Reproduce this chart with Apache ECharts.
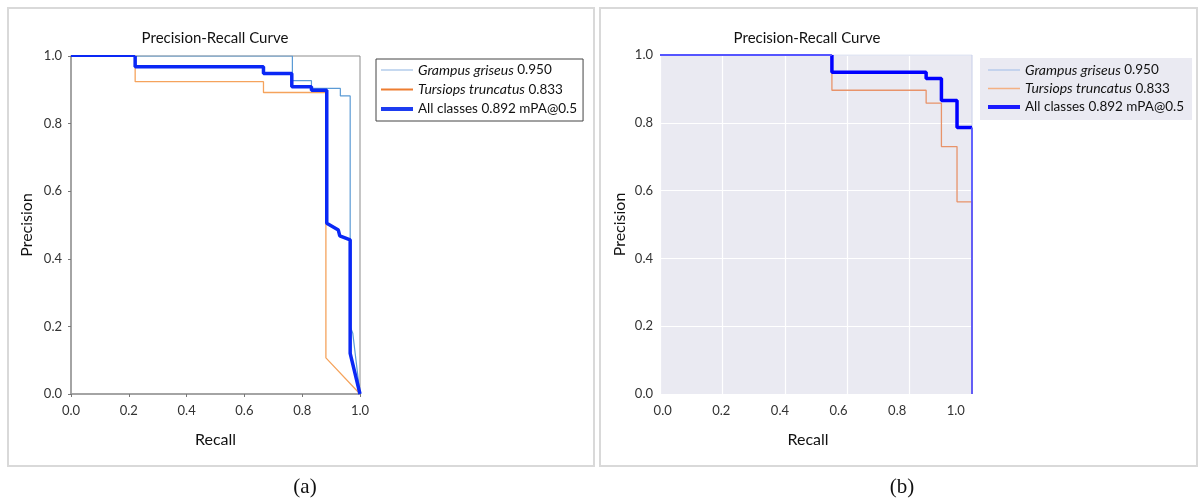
<!DOCTYPE html>
<html><head><meta charset="utf-8">
<script src="https://cdn.jsdelivr.net/npm/echarts@6/dist/echarts.min.js"></script>
<style>html,body{margin:0;padding:0;background:#fff}#c{width:1201px;height:502px}</style>
</head><body><div id="c"></div>
<script>
// ---------- data ----------
const tickValues = [0, 0.2, 0.4, 0.6, 0.8, 1.0];
const speciesNames = ['Grampus griseus', 'Tursiops truncatus', 'All classes'];
const apValues = ['0.950', '0.833', '0.892 mPA@0.5'];
const italicName = [true, true, false];

// panel (a)
const aGrampusRecall    = [0, 0.766, 0.766, 0.832, 0.832, 0.932, 0.932, 0.966, 0.966, 0.975, 1.0];
const aGrampusPrecision = [1.0, 1.0, 0.927, 0.927, 0.904, 0.904, 0.882, 0.882, 0.20, 0.18, 0.0];
const aTursiopsRecall    = [0, 0.222, 0.222, 0.666, 0.666, 0.882, 0.882, 1.0];
const aTursiopsPrecision = [1.0, 1.0, 0.924, 0.924, 0.892, 0.892, 0.107, 0.0];
const aAllRecall    = [0, 0.222, 0.222, 0.666, 0.666, 0.764, 0.764, 0.832, 0.832, 0.885, 0.885, 0.925, 0.930, 0.966, 0.966, 1.0];
const aAllPrecision = [1.0, 1.0, 0.968, 0.968, 0.948, 0.948, 0.909, 0.909, 0.899, 0.899, 0.505, 0.485, 0.468, 0.456, 0.12, 0.0];

// panel (b)
const bGrampusRecall    = [0, 1.0, 1.0];
const bGrampusPrecision = [1.0, 1.0, 0.0];
const bTursiopsRecall    = [0, 0.551, 0.551, 0.853, 0.853, 0.902, 0.902, 0.952, 0.952, 1.0, 1.0];
const bTursiopsPrecision = [1.0, 1.0, 0.896, 0.896, 0.858, 0.858, 0.730, 0.730, 0.567, 0.567, 0.0];
const bAllRecall    = [0, 0.551, 0.551, 0.853, 0.853, 0.902, 0.902, 0.952, 0.952, 1.0, 1.0];
const bAllPrecision = [1.0, 1.0, 0.949, 0.949, 0.931, 0.931, 0.866, 0.866, 0.786, 0.786, 0.0];

// ---------- helpers ----------
const names = speciesNames.map((s, i) => s + ' ' + apValues[i]);
const zip = (r, p) => r.map((v, i) => [v, p[i]]);
function legendFmt(name) {
  const i = names.indexOf(name);
  if (i < 0) return name;
  return italicName[i] ? '{i|' + speciesNames[i] + '} ' + apValues[i] : name;
}
// split a curve into the part lying on the plot edges (drawn thinner, as clipped in the original) and the inner part
function splitEdges(r, p) {
  const onEdge = i => (p[i] === 1 && p[i + 1] === 1) || (r[i] === 1 && r[i + 1] === 1);
  let s = 0; while (s < r.length - 1 && onEdge(s)) s++;
  let e = r.length - 1; while (e > 0 && onEdge(e - 1)) e--;
  const pts = zip(r, p);
  return { head: pts.slice(0, s + 1), inner: pts.slice(s, e + 1), tail: pts.slice(e) };
}
function iconPath(h) { // line icon of thickness h inside a 32x14 box
  const a = 7 - h / 2, b = 7 + h / 2;
  return 'path://M0,0L32,0Z M0,' + a + 'L32,' + a + 'L32,' + b + 'L0,' + b + 'Z M0,14L32,14Z';
}
const FONT = 'Lato';

const aAll = splitEdges(aAllRecall, aAllPrecision);
const bAll = splitEdges(bAllRecall, bAllPrecision);

function lineSeries(name, data, xi, yi, color, width, z) {
  return { type: 'line', name, data, xAxisIndex: xi, yAxisIndex: yi, symbol: 'none', showSymbol: false,
    lineStyle: { color, width }, itemStyle: { color }, z, silent: true, clip: true };
}
const legendText = { fontFamily: FONT, fontSize: 13.5, color: '#111',
  rich: { i: { fontFamily: FONT, fontSize: 14, fontStyle: 'italic', color: '#111' } } };

const chart = echarts.init(document.getElementById('c'), null, { renderer: 'canvas' });
chart.setOption({
  animation: false,
  backgroundColor: '#ffffff',
  grid: [
    { left: 71, top: 56, width: 289, height: 338, show: true, borderColor: '#8c8c8c', borderWidth: 1, backgroundColor: '#fff' },
    { left: 660, top: 55, width: 312, height: 339, show: true, borderWidth: 0, backgroundColor: '#EAEAF2' }
  ],
  xAxis: [
    { gridIndex: 0, type: 'value', min: 0, max: 1, interval: 0.2, position: 'bottom',
      axisLine: { show: true, lineStyle: { color: '#999', width: 1.5 } },
      axisTick: { show: true, length: 3, lineStyle: { color: '#777' } },
      axisLabel: { margin: 10, fontFamily: FONT, fontSize: 13, color: '#333', formatter: v => v.toFixed(1) },
      splitLine: { show: false },
      name: 'Recall', nameLocation: 'middle', nameGap: 38, nameTextStyle: { fontFamily: FONT, fontSize: 16, color: '#111' } },
    { gridIndex: 1, type: 'value', min: 0, max: 1, interval: 0.2, position: 'bottom',
      axisLine: { show: false }, axisTick: { show: false }, axisLabel: { show: false },
      splitLine: { show: true, lineStyle: { color: '#ffffff', width: 1.2 } } },
    { gridIndex: 1, type: 'value', min: -0.0092, max: 1.0553, position: 'bottom',
      axisLine: { show: false }, axisTick: { show: false }, splitLine: { show: false },
      axisLabel: { customValues: tickValues, margin: 10, fontFamily: FONT, fontSize: 13, color: '#333', formatter: v => v.toFixed(1) },
      name: 'Recall', nameLocation: 'middle', nameGap: 38, nameTextStyle: { fontFamily: FONT, fontSize: 16, color: '#111', padding: [0, 16, 0, 0] } }
  ],
  yAxis: [
    { gridIndex: 0, type: 'value', min: 0, max: 1, interval: 0.2,
      axisLine: { show: true, lineStyle: { color: '#999', width: 1.5 } },
      axisTick: { show: true, length: 3, lineStyle: { color: '#777' } },
      axisLabel: { margin: 9, fontFamily: FONT, fontSize: 13, color: '#333', formatter: v => v.toFixed(1) },
      splitLine: { show: false },
      name: 'Precision', nameLocation: 'middle', nameGap: 36, nameTextStyle: { fontFamily: FONT, fontSize: 16, color: '#111' } },
    { gridIndex: 1, type: 'value', min: 0, max: 1, interval: 0.2,
      axisLine: { show: false }, axisTick: { show: false },
      axisLabel: { margin: 7, fontFamily: FONT, fontSize: 13, color: '#333', formatter: v => v.toFixed(1) },
      splitLine: { show: true, lineStyle: { color: '#ffffff', width: 1.2 } },
      name: 'Precision', nameLocation: 'middle', nameGap: 32, nameTextStyle: { fontFamily: FONT, fontSize: 16, color: '#111' } }
  ],
  legend: [
    { orient: 'vertical', left: 376, top: 59, padding: [4, 6, 5, 5], itemWidth: 32, itemHeight: 14, itemGap: 5.5,
      borderColor: '#444', borderWidth: 1, backgroundColor: '#fff', selectedMode: false,
      itemStyle: { borderWidth: 0 }, formatter: legendFmt, textStyle: legendText,
      data: [
        { name: names[0], icon: iconPath(1), itemStyle: { color: '#8db3e2', borderWidth: 0 } },
        { name: names[1], icon: iconPath(2), itemStyle: { color: '#ed7d31', borderWidth: 0 } },
        { name: names[2], icon: iconPath(4), itemStyle: { color: '#1d3cf0', borderWidth: 0 } }
      ] },
    { orient: 'vertical', left: 980, top: 58, padding: [5, 8, 6, 8], itemWidth: 32, itemHeight: 14, itemGap: 4.5,
      borderWidth: 0, backgroundColor: '#EAEAF2', selectedMode: false,
      itemStyle: { borderWidth: 0 }, formatter: legendFmt, textStyle: legendText,
      data: [
        { name: names[0], icon: iconPath(1), itemStyle: { color: '#9dbbe8', borderWidth: 0 } },
        { name: names[1], icon: iconPath(1.5), itemStyle: { color: '#f4b183', borderWidth: 0 } },
        { name: names[2], icon: iconPath(4), itemStyle: { color: '#1a1aff', borderWidth: 0 } }
      ] }
  ],
  series: [
    lineSeries(names[0], zip(aGrampusRecall, aGrampusPrecision), 0, 0, '#5b9bd5', 1.2, 2),
    lineSeries(names[1], zip(aTursiopsRecall, aTursiopsPrecision), 0, 0, '#f5a35c', 1.3, 3),
    lineSeries(names[2], aAll.inner, 0, 0, '#0a28f5', 3.5, 4),
    lineSeries(names[2], aAll.head, 0, 0, '#0a28f5', 2, 4),
    lineSeries(names[2], aAll.tail, 0, 0, '#0a28f5', 2, 4),
    lineSeries(names[0], zip(bGrampusRecall, bGrampusPrecision), 1, 1, '#c6cde8', 1, 2),
    lineSeries(names[1], zip(bTursiopsRecall, bTursiopsPrecision), 1, 1, '#e8936a', 1.3, 3),
    lineSeries(names[2], bAll.inner, 1, 1, '#0000ff', 3.5, 4),
    lineSeries(names[2], bAll.head, 1, 1, '#5555ff', 1.8, 4),
    lineSeries(names[2], bAll.tail, 1, 1, '#5555ff', 1.8, 4)
  ],
  graphic: [
    { type: 'rect', silent: true, z: -10, shape: { x: 8, y: 8, width: 586, height: 458 }, style: { fill: 'none', stroke: '#d9d9d9', lineWidth: 2 } },
    { type: 'rect', silent: true, z: -10, shape: { x: 600, y: 8, width: 597, height: 458 }, style: { fill: 'none', stroke: '#d9d9d9', lineWidth: 2 } },
    { type: 'text', silent: true, x: 215, y: 38, style: { text: 'Precision-Recall Curve', font: '15px Lato', fill: '#111', align: 'center', verticalAlign: 'middle' } },
    { type: 'text', silent: true, x: 807, y: 38, style: { text: 'Precision-Recall Curve', font: '15px Lato', fill: '#111', align: 'center', verticalAlign: 'middle' } },
    { type: 'text', silent: true, x: 305, y: 487, style: { text: '(a)', font: '21px "Liberation Serif"', fill: '#111', align: 'center', verticalAlign: 'middle' } },
    { type: 'text', silent: true, x: 902, y: 487, style: { text: '(b)', font: '21px "Liberation Serif"', fill: '#111', align: 'center', verticalAlign: 'middle' } }
  ]
});
</script>
</body></html>
